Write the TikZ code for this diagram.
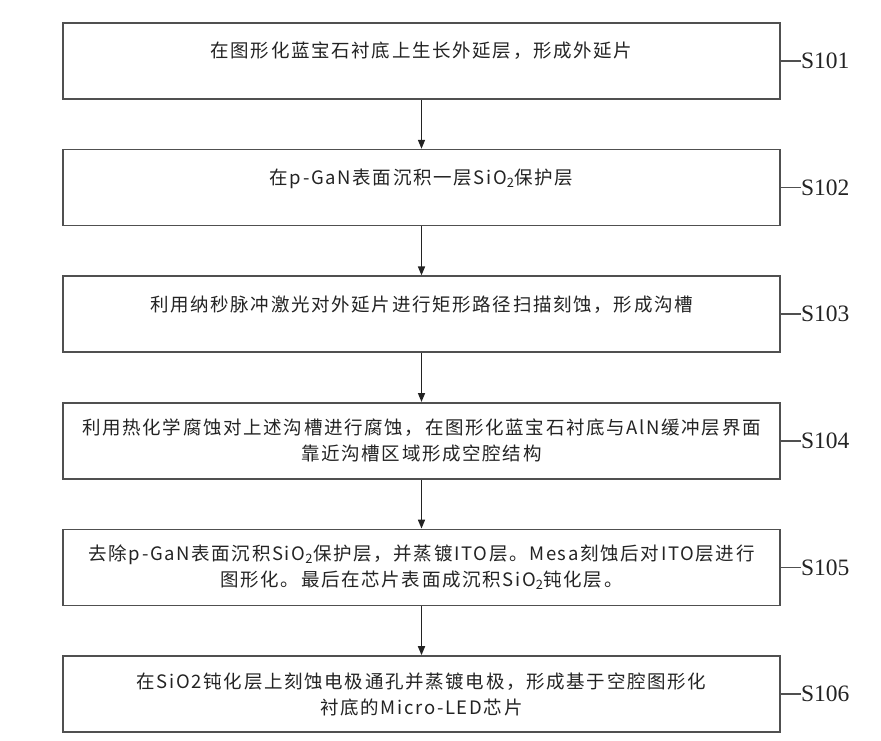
\documentclass[tikz,border=0pt]{standalone}
\usepackage{fontspec}
\setmainfont{Liberation Serif}
\newfontfamily\cjkfont[LetterSpace=9]{Noto Sans CJK SC}
\usepackage{xcolor}
\definecolor{frame}{RGB}{80,80,80}
\definecolor{ink}{RGB}{35,35,35}
\usetikzlibrary{arrows.meta,positioning}
\tikzset{
  stepbox/.style={draw=frame,line width=1.6pt,minimum width=717pt,%
    minimum height=76pt,inner sep=2pt,align=center,text=ink,%
    font=\cjkfont\fontsize{18.5}{26}\selectfont},
  oneline/.style={text depth=22pt},
  steplbl/.style={font=\fontsize{23.5}{26}\selectfont,text=ink,inner sep=0pt,anchor=west},
  flow/.style={-{Triangle[length=9pt,width=7pt]},line width=1.6pt,draw=ink},
  tick/.style={line width=1.6pt,draw=frame},
}
\begin{document}
\begin{tikzpicture}[x=1pt,y=-1pt,node distance=49pt]
\useasboundingbox (0,0) rectangle (881,741);
\node[stepbox,oneline] (s101) at (421.5,61) {在图形化蓝宝石衬底上生长外延层，形成外延片};
\node[stepbox,oneline,below=of s101] (s102) {在p-GaN表面沉积一层SiO\textsubscript{2}保护层};
\node[stepbox,oneline,below=of s102] (s103) {利用纳秒脉冲激光对外延片进行矩形路径扫描刻蚀，形成沟槽};
\node[stepbox,below=of s103] (s104) {利用热化学腐蚀对上述沟槽进行腐蚀，在图形化蓝宝石衬底与AlN缓冲层界面\\靠近沟槽区域形成空腔结构};
\node[stepbox,below=of s104] (s105) {去除p-GaN表面沉积SiO\textsubscript{2}保护层，并蒸镀ITO层。Mesa刻蚀后对ITO层进行\\图形化。最后在芯片表面成沉积SiO\textsubscript{2}钝化层。};
\node[stepbox,below=of s105] (s106) {在SiO2钝化层上刻蚀电极通孔并蒸镀电极，形成基于空腔图形化\\衬底的Micro-LED芯片};
% step labels
\node[steplbl,right=20pt of s101.east] (l101) {S101};
\node[steplbl,right=20pt of s102.east] (l102) {S102};
\node[steplbl,right=20pt of s103.east] (l103) {S103};
\node[steplbl,right=20pt of s104.east] (l104) {S104};
\node[steplbl,right=20pt of s105.east] (l105) {S105};
\node[steplbl,right=20pt of s106.east] (l106) {S106};
\draw[tick] (s101.east) -- (l101.west);
\draw[tick] (s102.east) -- (l102.west);
\draw[tick] (s103.east) -- (l103.west);
\draw[tick] (s104.east) -- (l104.west);
\draw[tick] (s105.east) -- (l105.west);
\draw[tick] (s106.east) -- (l106.west);
% flow arrows
\draw[flow] (s101) -- (s102);
\draw[flow] (s102) -- (s103);
\draw[flow] (s103) -- (s104);
\draw[flow] (s104) -- (s105);
\draw[flow] (s105) -- (s106);
\end{tikzpicture}
\end{document}
